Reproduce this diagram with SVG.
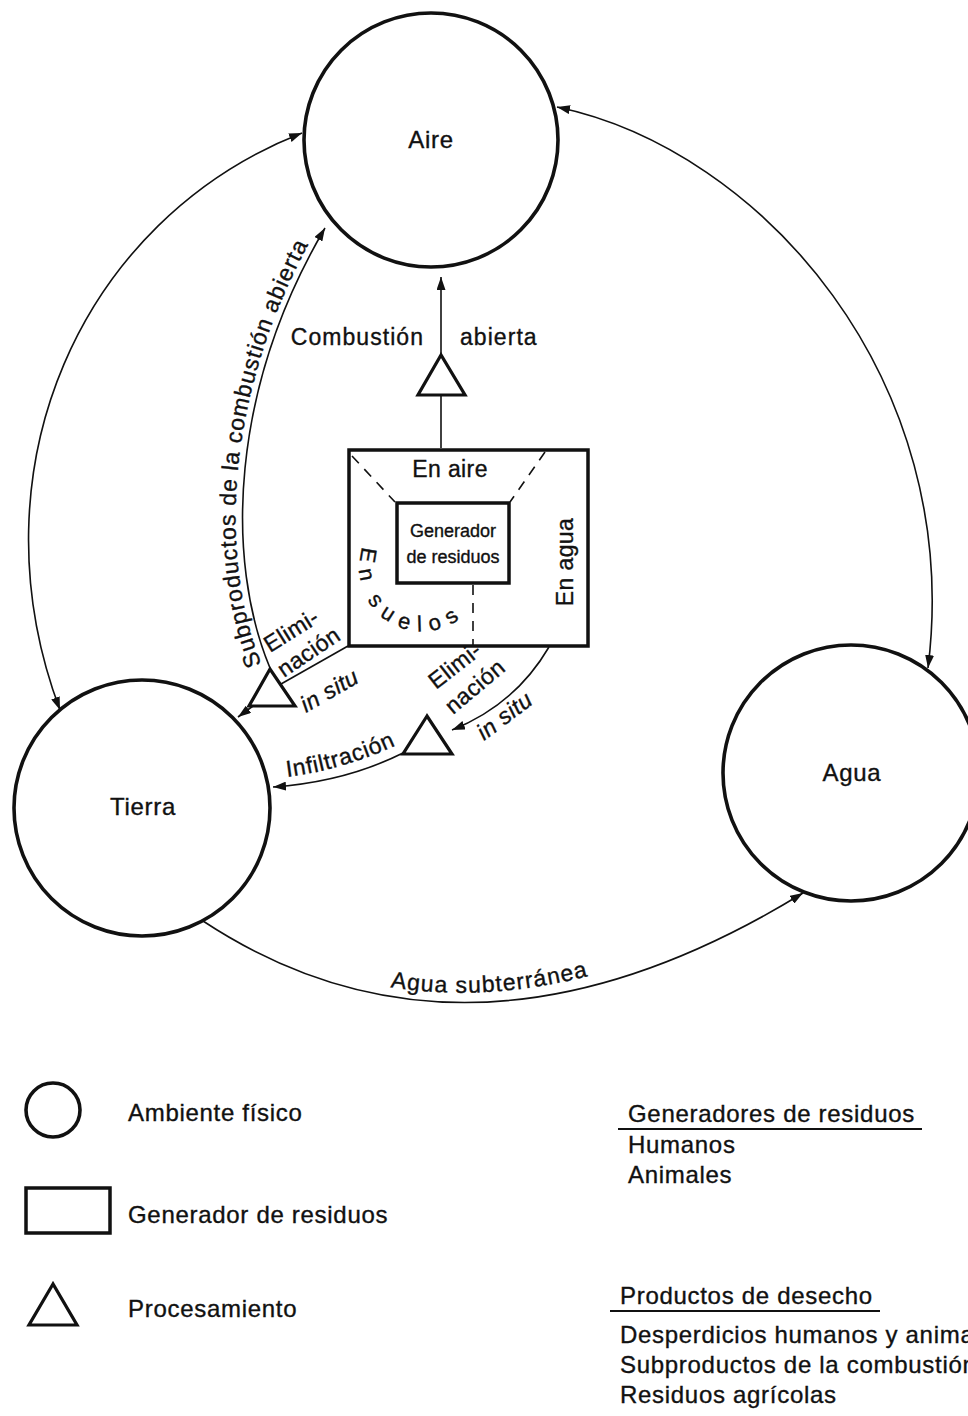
<svg xmlns="http://www.w3.org/2000/svg" width="968" height="1416" viewBox="0 0 968 1416">
<style>
text{font-family:"Liberation Sans",Arial,Helvetica,sans-serif;fill:#111;stroke:#111;stroke-width:0.35}
.big{font-size:24px;letter-spacing:0.7px}
.lbl{font-size:23px;letter-spacing:0.4px}
.wide{letter-spacing:1.05px}
.sm{font-size:18px}
.it{font-style:italic}
.env{fill:#fff;stroke:#111;stroke-width:3.6}
.box{fill:#fff;stroke:#111;stroke-width:3.5}
.tri{fill:#fff;stroke:#111;stroke-width:3.2;stroke-linejoin:miter}
.con{fill:none;stroke:#111;stroke-width:1.6}
.dash{fill:none;stroke:#111;stroke-width:1.6;stroke-dasharray:10 8}
.ul{stroke:#111;stroke-width:2}
</style>
<defs>
<marker id="arr" viewBox="0 0 13 9" refX="13" refY="4.5" markerWidth="13" markerHeight="9" markerUnits="userSpaceOnUse" orient="auto-start-reverse">
<path d="M0,0 L13,4.5 L0,9 z" fill="#111"/>
</marker>
<path id="p-sub" d="M263,668 C 218,560 223,390 319,226"/>
<path id="p-inf" d="M287,777 Q 343,770 399,744"/>
<path id="p-agua" d="M203,913 Q 470,1087 803,881"/>
<path id="p-suelos" d="M363,547 A61,61 0 0,0 481,590"/>
</defs>
<rect width="968" height="1416" fill="#fff"/>

<g id="connectors">
<path class="con" d="M302,133 C 80,220 -30,470 60,710" marker-start="url(#arr)" marker-end="url(#arr)"/>
<path class="con" d="M557,107 C 762,150 964,380 928,668" marker-start="url(#arr)" marker-end="url(#arr)"/>
<path class="con" d="M203,921 Q 470,1097 803,893" marker-end="url(#arr)"/>
<path class="con" d="M441,448 L441,395"/>
<path class="con" d="M441,355 L441,277" marker-end="url(#arr)"/>
<path class="con" d="M270,668 C 225,560 230,390 325,228" marker-end="url(#arr)"/>
<path class="con" d="M348,646 L281,684"/>
<path class="con" d="M253,706 L238,717" marker-end="url(#arr)"/>
<path class="con" d="M549,647 Q 515,705 452,730" marker-end="url(#arr)"/>
<path class="con" d="M403,753 Q 345,782 273,787" marker-end="url(#arr)"/>
</g>

<g id="node-aire">
<circle class="env" cx="431" cy="140" r="127"/>
<text class="big" x="431" y="148" text-anchor="middle">Aire</text>
</g>
<g id="node-tierra">
<circle class="env" cx="142" cy="808" r="128"/>
<text class="big" x="143" y="815" text-anchor="middle">Tierra</text>
</g>
<g id="node-agua">
<circle class="env" cx="851" cy="773" r="128"/>
<text class="big" x="852" y="781" text-anchor="middle">Agua</text>
</g>

<g id="node-generador">
<rect class="box" x="349" y="450" width="239" height="196"/>
<path class="dash" d="M352,456 L395,502"/>
<path class="dash" d="M545,452 L510,502"/>
<path class="dash" d="M473,585 L473,645"/>
<rect class="box" x="397" y="503" width="112" height="80" stroke-width="3"/>
<text class="sm" x="453" y="537" text-anchor="middle">Generador</text>
<text class="sm" x="453" y="563" text-anchor="middle">de residuos</text>
<text class="lbl" x="450" y="477" text-anchor="middle">En aire</text>
<text class="lbl" transform="translate(573,562) rotate(-90)" text-anchor="middle">En agua</text>
<text style="font-size:22px;letter-spacing:8.5px;word-spacing:-4px"><textPath href="#p-suelos">En suelos</textPath></text>
</g>

<g id="node-proc-combustion">
<polygon class="tri" points="441,355 418,395 465,395"/>
</g>
<g id="node-proc-left">
<polygon class="tri" points="270,669 249,706 295,706"/>
</g>
<g id="node-proc-right">
<polygon class="tri" points="427,716 403,754 452,754"/>
</g>

<g id="labels">
<text class="lbl wide" x="424" y="345" text-anchor="end">Combustión</text>
<text class="lbl wide" x="460" y="345">abierta</text>
<text class="lbl" style="letter-spacing:1px"><textPath href="#p-sub" startOffset="4">Subproductos de la combustión abierta</textPath></text>
<text class="lbl" transform="translate(270,653) rotate(-32)">Elimi-</text>
<text class="lbl" transform="translate(284,678) rotate(-34)">nación</text>
<text class="lbl it" transform="translate(306,713) rotate(-30)">in situ</text>
<text class="lbl" transform="translate(436,690) rotate(-38)">Elimi-</text>
<text class="lbl" transform="translate(453,715) rotate(-40)">nación</text>
<text class="lbl it" transform="translate(484,741) rotate(-37)">in situ</text>
<text class="lbl" style="letter-spacing:0.8px"><textPath href="#p-inf">Infiltración</textPath></text>
<text class="lbl" style="letter-spacing:1.1px"><textPath href="#p-agua" startOffset="47.5%" text-anchor="middle">Agua subterránea</textPath></text>
</g>

<g id="legend">
<circle class="env" cx="53" cy="1110" r="27"/>
<text class="big" x="128" y="1121">Ambiente físico</text>
<rect class="box" x="26" y="1188" width="84" height="45"/>
<text class="big" x="128" y="1223">Generador de residuos</text>
<polygon class="tri" points="53,1284 29,1325 77,1325"/>
<text class="big" x="128" y="1317">Procesamiento</text>
</g>

<g id="lists">
<text class="big" x="628" y="1122">Generadores de residuos</text>
<line class="ul" x1="618" y1="1129" x2="922" y2="1129"/>
<text class="big" x="628" y="1153">Humanos</text>
<text class="big" x="628" y="1183">Animales</text>
<text class="big" x="620" y="1304">Productos de desecho</text>
<line class="ul" x1="610" y1="1311" x2="880" y2="1311"/>
<text class="big" x="620" y="1343">Desperdicios humanos y animales</text>
<text class="big" x="620" y="1373">Subproductos de la combustión</text>
<text class="big" x="620" y="1403">Residuos agrícolas</text>
</g>
</svg>
